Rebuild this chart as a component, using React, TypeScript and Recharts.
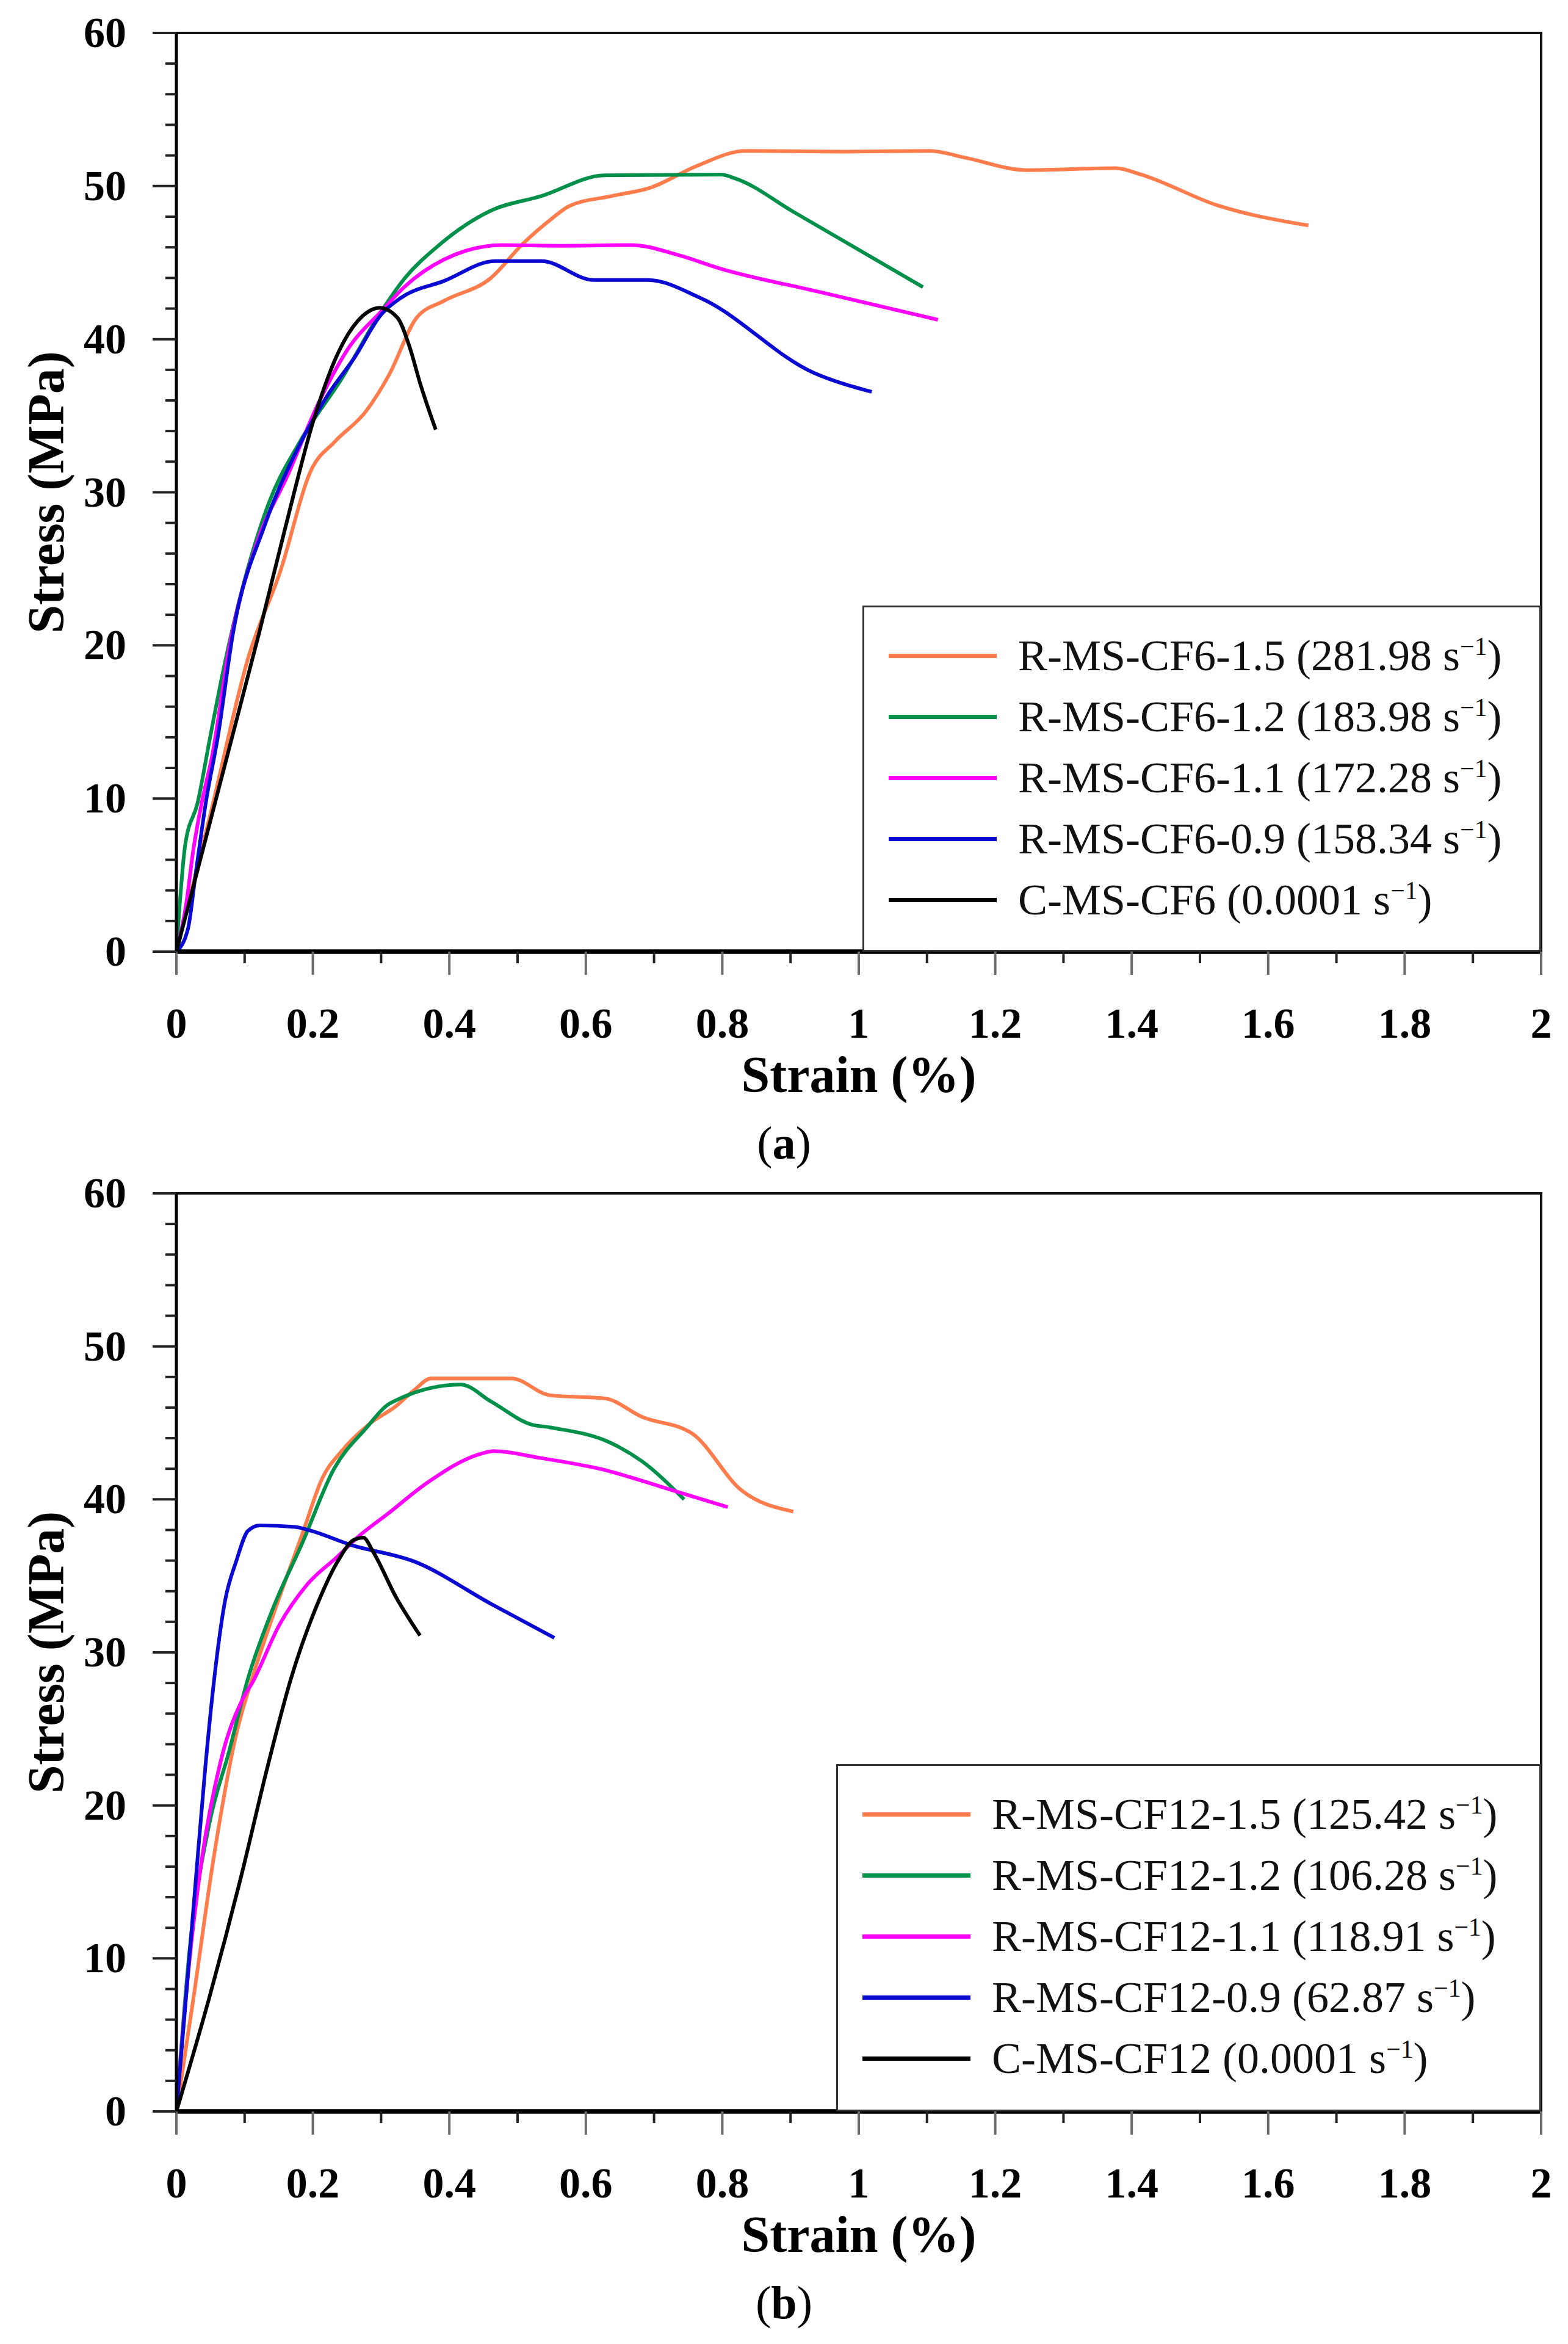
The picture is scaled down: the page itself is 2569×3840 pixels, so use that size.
import React from 'react';
import { LineChart, Line, XAxis, YAxis, Legend, Label, ReferenceArea, ReferenceLine } from 'recharts';

const FONT = '"Liberation Serif", "Times New Roman", Times, serif';

// axis ticks (minor + major); only majors get a label
const xTicks = [0, 0.1, 0.2, 0.3, 0.4, 0.5, 0.6, 0.7, 0.8, 0.9, 1, 1.1, 1.2, 1.3, 1.4, 1.5, 1.6, 1.7, 1.8, 1.9, 2];
const xMajor = [0, 0.2, 0.4, 0.6, 0.8, 1, 1.2, 1.4, 1.6, 1.8, 2];
const yTicks = [0, 2, 4, 6, 8, 10, 12, 14, 16, 18, 20, 22, 24, 26, 28, 30, 32, 34, 36, 38, 40, 42, 44, 46, 48, 50, 52, 54, 56, 58, 60];
const yMajor = [0, 10, 20, 30, 40, 50, 60];

const colors = ['#ff7c4c', '#00904a', '#ff00ff', '#0a0ad2', '#000000'];

// ---- panel (a): CF6 specimens, [strain %, stress MPa]
const cf6Names = ['R-MS-CF6-1.5', 'R-MS-CF6-1.2', 'R-MS-CF6-1.1', 'R-MS-CF6-0.9', 'C-MS-CF6'];
const cf6Rates = ['281.98', '183.98', '172.28', '158.34', '0.0001'];

const cf6_15 = [[0, 0], [0.05, 9], [0.106, 19.3], [0.152, 24.8], [0.198, 31.5], [0.232, 33.3], [0.278, 35.3], [0.312, 37.7], [0.352, 41.4], [0.392, 42.5], [0.461, 44.0], [0.507, 46.2], [0.548, 47.8], [0.576, 48.7], [0.638, 49.35], [0.695, 49.9], [0.762, 51.3], [0.834, 52.3], [0.977, 52.25], [1.105, 52.3], [1.155, 51.86], [1.248, 51.04], [1.377, 51.17], [1.412, 50.78], [1.527, 48.72], [1.659, 47.43]];
const cf6_12 = [[0, 0], [0.013, 7.0], [0.031, 9.7], [0.049, 13.9], [0.067, 18.0], [0.135, 29.25], [0.181, 33.3], [0.244, 37.55], [0.3, 41.8], [0.335, 44.0], [0.381, 46.0], [0.461, 48.4], [0.535, 49.35], [0.627, 50.7], [0.798, 50.75], [0.819, 50.5], [0.905, 48.3], [1.094, 43.4]];
const cf6_11 = [[0, 0], [0.014, 3.0], [0.025, 6.7], [0.037, 9.7], [0.052, 12.7], [0.078, 20.0], [0.118, 26.7], [0.163, 31.1], [0.209, 35.9], [0.255, 39.6], [0.3, 41.8], [0.335, 43.45], [0.392, 45.2], [0.478, 46.15], [0.564, 46.1], [0.667, 46.15], [0.735, 45.5], [0.798, 44.6], [0.941, 43.1], [1.116, 41.27]];
const cf6_09 = [[0, 0], [0.017, 1.5], [0.028, 5.0], [0.043, 9.7], [0.061, 14.1], [0.083, 20.8], [0.129, 27.8], [0.175, 32.6], [0.221, 36.3], [0.261, 38.8], [0.3, 41.6], [0.329, 42.7], [0.392, 43.8], [0.467, 45.1], [0.535, 45.1], [0.612, 43.86], [0.691, 43.86], [0.769, 42.67], [0.934, 37.8], [1.019, 36.56]];
const cf6_c = [[0, 0], [0.121, 20.77], [0.158, 27.4], [0.204, 35.15], [0.238, 39.2], [0.266, 41.2], [0.298, 42.05], [0.324, 41.4], [0.341, 39.6], [0.358, 37.0], [0.369, 35.5], [0.38, 34.1]];

// ---- panel (b): CF12 specimens
const cf12Names = ['R-MS-CF12-1.5', 'R-MS-CF12-1.2', 'R-MS-CF12-1.1', 'R-MS-CF12-0.9', 'C-MS-CF12'];
const cf12Rates = ['125.42', '106.28', '118.91', '62.87', '0.0001'];

const cf12_15 = [[0, 0], [0.025, 7.4], [0.054, 16.4], [0.088, 24.7], [0.111, 28.3], [0.151, 33.6], [0.185, 37.8], [0.214, 41.4], [0.242, 43.15], [0.282, 44.9], [0.322, 46.1], [0.35, 47.2], [0.373, 47.9], [0.491, 47.9], [0.548, 46.8], [0.628, 46.6], [0.682, 45.4], [0.756, 44.3], [0.828, 40.6], [0.904, 39.2]];
const cf12_12 = [[0, 0], [0.019, 10.4], [0.048, 18.75], [0.077, 23.5], [0.105, 28.3], [0.14, 32.7], [0.185, 37.2], [0.231, 42.0], [0.277, 44.6], [0.314, 46.3], [0.417, 47.5], [0.461, 46.4], [0.52, 44.9], [0.548, 44.7], [0.636, 43.7], [0.682, 42.5], [0.744, 40.0]];
const cf12_11 = [[0, 0], [0.017, 8.9], [0.037, 16.4], [0.065, 22.9], [0.099, 27.1], [0.111, 28.0], [0.151, 31.8], [0.191, 34.4], [0.237, 36.3], [0.265, 37.5], [0.311, 39.1], [0.368, 41.1], [0.448, 43.0], [0.465, 43.15], [0.534, 42.7], [0.62, 42.0], [0.734, 40.5], [0.808, 39.5]];
const cf12_09 = [[0, 0], [0.014, 7.4], [0.028, 14.9], [0.042, 22.3], [0.054, 27.7], [0.071, 33.3], [0.088, 36.0], [0.105, 37.95], [0.122, 38.3], [0.174, 38.2], [0.197, 37.95], [0.254, 37.05], [0.351, 35.9], [0.46, 33.2], [0.554, 30.95]];
const cf12_c = [[0, 0], [0.048, 7.4], [0.094, 15.2], [0.134, 22.6], [0.168, 28.3], [0.208, 33.3], [0.237, 36.0], [0.26, 37.35], [0.274, 37.5], [0.288, 36.6], [0.322, 33.6], [0.357, 31.1]];

const toPts = (arr: number[][]) => arr.map(([x, y]) => ({ x, y }));

const isMajor = (list: number[], v: number) => list.some((m) => Math.abs(m - v) < 1e-6);

function XTick(props: any) {
  const { x, y, payload } = props;
  const v = payload.value;
  const major = isMajor(xMajor, v);
  return (
    <g>
      <line x1={x} x2={x} y1={y} y2={y + (major ? 38 : 19)} stroke={major ? '#6a6a6a' : '#222'} strokeWidth={4} />
      {major && (
        <text x={x} y={y + 141} textAnchor="middle" fontFamily={FONT} fontWeight="bold" fontSize={70} fill="#000">
          {String(Number(v.toFixed(1)))}
        </text>
      )}
    </g>
  );
}

function YTick(props: any) {
  const { x, y, payload } = props;
  const v = payload.value;
  const major = isMajor(yMajor, v);
  return (
    <g>
      <line x1={x - (major ? 39 : 18)} x2={x} y1={y} y2={y} stroke="#222" strokeWidth={4} />
      {major && (
        <text x={x - 82} y={y + 23} textAnchor="end" fontFamily={FONT} fontWeight="bold" fontSize={70} fill="#000">
          {v}
        </text>
      )}
    </g>
  );
}

// legend rows in the series order (recharts would otherwise sort them)
function LegendBox({ rates, names }: { rates: string[]; names: string[] }) {
  return (
    <div
      style={{
        boxSizing: 'border-box',
        width: '100%',
        height: '100%',
        border: '3px solid #333',
        background: '#fff',
        paddingTop: 29,
      }}
    >
      {names.map((n, i) => (
        <div key={n} style={{ display: 'flex', alignItems: 'center', height: 100 }}>
          <span style={{ display: 'inline-block', width: 177, height: 7, background: colors[i], marginLeft: 40, marginRight: 35 }} />
          <span style={{ fontFamily: FONT, fontSize: 72, lineHeight: 1, color: '#111', whiteSpace: 'nowrap' }}>
            {n} ({rates[i]} s<sup style={{ fontSize: '0.58em', lineHeight: 0 }}>−1</sup>)
          </span>
        </div>
      ))}
    </div>
  );
}

type PanelProps = {
  top: number;
  marginTop: number;
  tag: string;
  names: string[];
  rates: string[];
  series: number[][][];
  legendLeft: number;
  legendTop: number;
};

function Panel({ top, marginTop, tag, names, rates, series, legendLeft, legendTop }: PanelProps) {
  const W = 2569;
  const H = 1960;
  const plotBottom = 1559;
  return (
    <div style={{ position: 'absolute', left: 0, top, width: W, height: H }}>
      <LineChart width={W} height={H} margin={{ top: marginTop, right: 44, bottom: H - plotBottom - 60, left: 139 }}>
        <ReferenceArea x1={0} x2={2} y1={0} y2={60} fill="none" fillOpacity={0} stroke="#111" strokeWidth={4} ifOverflow="visible" />
        <XAxis
          dataKey="x"
          type="number"
          domain={[0, 2]}
          ticks={xTicks}
          interval={0}
          height={60}
          tickSize={0}
          tickMargin={0}
          tickLine={false}
          axisLine={{ stroke: '#000', strokeWidth: 7 }}
          tick={<XTick />}
          allowDataOverflow
        >
          <Label
            content={(p: any) => {
              const vb = p.viewBox;
              return (
                <g>
                  <text x={vb.x + vb.width / 2} y={vb.y + 230} textAnchor="middle" fontFamily={FONT} fontWeight="bold" fontSize={84} fill="#000">
                    Strain (%)
                  </text>
                  <text x={W / 2} y={vb.y + 339} textAnchor="middle" fontFamily={FONT} fontSize={76} fill="#000">
                    (<tspan fontWeight="bold">{tag}</tspan>)
                  </text>
                </g>
              );
            }}
          />
        </XAxis>
        <YAxis
          type="number"
          domain={[0, 60]}
          ticks={yTicks}
          interval={0}
          width={150}
          tickSize={0}
          tickMargin={0}
          tickLine={false}
          axisLine={{ stroke: '#000', strokeWidth: 5 }}
          tick={<YTick />}
          allowDataOverflow
        >
          <Label
            content={(p: any) => {
              const vb = p.viewBox;
              const cx = 104;
              const cy = vb.y + vb.height / 2;
              return (
                <text x={cx} y={cy} transform={`rotate(-90 ${cx} ${cy})`} textAnchor="middle" fontFamily={FONT} fontWeight="bold" fontSize={84} fill="#000">
                  Stress (MPa)
                </text>
              );
            }}
          />
        </YAxis>
        <ReferenceLine y={0} stroke="#000" strokeWidth={7} />
        {series.map((s, i) => (
          <Line
            key={names[i]}
            name={names[i]}
            data={toPts(s)}
            dataKey="y"
            type="monotone"
            stroke={colors[i]}
            strokeWidth={6}
            dot={false}
            activeDot={false}
            legendType="plainline"
            isAnimationActive={false}
          />
        ))}
        <Legend
          layout="vertical"
          align="center"
          verticalAlign="middle"
          wrapperStyle={{ left: legendLeft, top: legendTop, width: 2525 - legendLeft, height: plotBottom - legendTop }}
          content={() => <LegendBox rates={rates} names={names} />}
        />
      </LineChart>
    </div>
  );
}

export default function App() {
  return (
    <div style={{ position: 'absolute', left: 0, top: 0, width: 2569, height: 3840, background: '#fff', overflow: 'hidden' }}>
      <Panel
        top={0}
        marginTop={54}
        tag="a"
        names={cf6Names}
        rates={cf6Rates}
        series={[cf6_15, cf6_12, cf6_11, cf6_09, cf6_c]}
        legendLeft={1413}
        legendTop={992}
      />
      <Panel
        top={1900}
        marginTop={55}
        tag="b"
        names={cf12Names}
        rates={cf12Rates}
        series={[cf12_15, cf12_12, cf12_11, cf12_09, cf12_c]}
        legendLeft={1370}
        legendTop={990}
      />
    </div>
  );
}
